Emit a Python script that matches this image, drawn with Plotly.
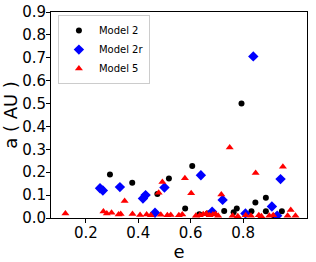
import plotly.graph_objects as go

m2_e = [0.292, 0.377, 0.473, 0.517, 0.606, 0.579, 0.633, 0.665, 0.728, 0.764, 0.776, 0.794,
        0.832, 0.847, 0.887, 0.887, 0.920, 0.948]
m2_a = [0.190, 0.154, 0.105, 0.173, 0.227, 0.042, 0.016, 0.020, 0.031, 0.025, 0.042, 0.500,
        0.030, 0.068, 0.088, 0.030, 0.006, 0.030]

m2r_e = [0.254, 0.265, 0.330, 0.418, 0.428, 0.464, 0.500, 0.639, 0.682, 0.722, 0.809, 0.839,
         0.910, 0.930, 0.943]
m2r_a = [0.130, 0.120, 0.135, 0.085, 0.100, 0.023, 0.133, 0.187, 0.027, 0.079, 0.020, 0.706,
         0.050, 0.010, 0.170]

m5_e = [0.122, 0.267, 0.280, 0.298, 0.325, 0.333, 0.348, 0.378, 0.407, 0.432, 0.448, 0.478,
        0.486, 0.492, 0.511, 0.524, 0.555, 0.568, 0.578, 0.602, 0.620, 0.635, 0.648, 0.660,
        0.672, 0.685, 0.695, 0.705, 0.717, 0.749, 0.760, 0.780, 0.810, 0.830, 0.848, 0.860,
        0.870, 0.900, 0.915, 0.952, 0.970, 0.982, 1.000]
m5_a = [0.020, 0.028, 0.020, 0.023, 0.015, 0.017, 0.074, 0.018, 0.013, 0.015, 0.012, 0.110,
        0.014, 0.157, 0.012, 0.013, 0.012, 0.015, 0.174, 0.108, 0.010, 0.012, 0.016, 0.020,
        0.012, 0.015, 0.018, 0.010, 0.103, 0.308, 0.010, 0.008, 0.012, 0.010, 0.197, 0.012,
        0.008, 0.010, 0.012, 0.224, 0.010, 0.035, 0.010]

y_ticks = [0.0, 0.1, 0.2, 0.3, 0.4, 0.5, 0.6, 0.7, 0.8, 0.9]
x_ticks = [0.2, 0.4, 0.6, 0.8]

fig = go.Figure()
fig.add_trace(go.Scatter(x=m2_e, y=m2_a, mode="markers", name="Model 2",
                         marker=dict(symbol="circle", size=6, color="black")))
fig.add_trace(go.Scatter(x=m2r_e, y=m2r_a, mode="markers", name="Model 2r",
                         marker=dict(symbol="diamond", size=8, color="#0000ff")))
fig.add_trace(go.Scatter(x=m5_e, y=m5_a, mode="markers", name="Model 5",
                         marker=dict(symbol="triangle-up", size=7, color="#ff0000")))

fig.update_layout(
    width=316, height=262,
    margin=dict(l=51, r=9, t=12, b=44),
    paper_bgcolor="white", plot_bgcolor="white",
    font=dict(family="DejaVu Sans", size=15, color="black"),
    legend=dict(x=0.027, y=0.985, xanchor="left", yanchor="top",
                bordercolor="#cccccc", borderwidth=1, bgcolor="white",
                font=dict(size=10), tracegroupgap=0),
    xaxis=dict(range=[0.067, 1.044], tickvals=x_ticks, ticktext=[f"{v:.1f}" for v in x_ticks],
               showgrid=False, zeroline=False, showline=True, linecolor="black", linewidth=1,
               mirror=True, ticks="outside", ticklen=4, tickcolor="black", automargin=False,
               ticklabelstandoff=-3,
               title=dict(text="e", standoff=0)),
    yaxis=dict(range=[0, 0.9], tickvals=y_ticks, ticktext=[f"{v:.1f}" for v in y_ticks],
               showgrid=False, zeroline=False, showline=True, linecolor="black", linewidth=1,
               mirror=True, ticks="outside", ticklen=4, tickcolor="black", automargin=False,
               ticklabelstandoff=-3,
               title=dict(text="a ( AU )", standoff=5)),
)

fig.write_html("out.html", config={"displayModeBar": False},
               post_script="document.body.style.margin='0px';")
